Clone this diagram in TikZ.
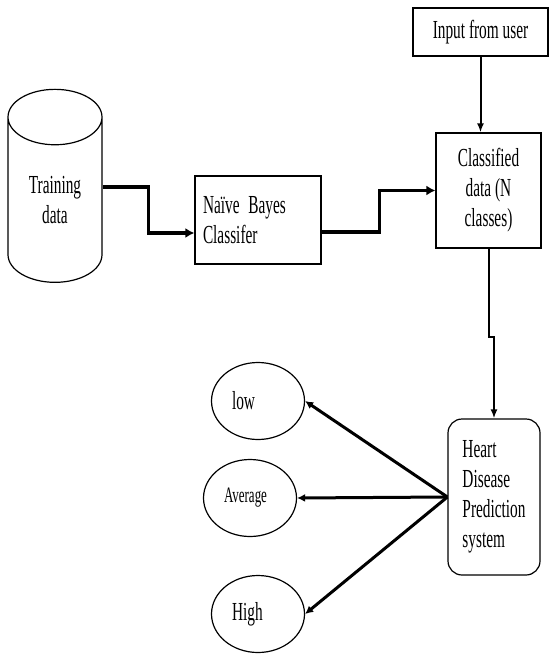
\documentclass[tikz,border=0pt]{standalone}
\usepackage{fontspec}
\setmainfont{Liberation Serif}[FakeStretch=0.59]
\usetikzlibrary{arrows.meta,shapes.geometric,calc}

\tikzset{
  box/.style={draw, line width=1.2pt, inner sep=0pt},
  oval/.style={draw, ellipse, line width=1.2pt, inner sep=0pt, minimum width=93pt, minimum height=77pt, text width=52pt, align=left},
  flow/.style={line width=3.5pt, -{Latex[length=9pt,width=10pt]}},
  thinflow/.style={line width=2pt, -{Latex[length=9pt,width=7pt]}},
  outflow/.style={line width=3pt, -{Latex[length=8pt,width=8pt]}}
}

\begin{document}
\begin{tikzpicture}[x=1pt,y=-1pt,font=\fontsize{26}{30}\selectfont]
       \useasboundingbox (0,0) rectangle (549,655);

       %kutije
       \node[box, cylinder, shape border rotate=90, aspect=1.06,
             minimum width=94pt, minimum height=193pt, align=center] (train) at (55,200) {Training\\data};
       \node[box, minimum width=126pt, minimum height=88pt, text width=110pt, align=left] (naive) at (258,220) {Na\"ive Bayes\\Classifer};
       \node[box, minimum width=135pt, minimum height=48pt] (input) at (480.5,32) {Input from user};
       \node[box, minimum width=105pt, minimum height=115pt, align=center] (cls) at (488.5,190.5) {Classified\\data (N\\classes)};
       \node[box, rounded corners=14pt, minimum width=92pt, minimum height=156pt, align=left] (heart) at (494,497) {Heart\\Disease\\Prediction\\system};

       %elipse
       \node[oval] (low) at (258,401) {low};
       \node[oval, font=\fontsize{22}{24}\selectfont] (avg) at (250,498) {Average};
       \node[oval] (high) at (258,614) {High};

       %strelice
       \draw[flow] ([yshift=13pt]train.east) -- ++(46,0) |- ([yshift=-13pt]naive.west);
       \draw[flow] ([yshift=-12pt]naive.east) -- ++(58,0) |- (cls.west);
       \draw[thinflow] (input.south) -- (input.south |- cls.north);
       \draw[thinflow] (cls.south) -- ++(0,88) -| (heart.north);
       \draw[outflow] (heart.west) -- (low.east);
       \draw[outflow] (heart.west) -- (avg.east);
       \draw[outflow] (heart.west) -- (high.east);

\end{tikzpicture}
\end{document}
